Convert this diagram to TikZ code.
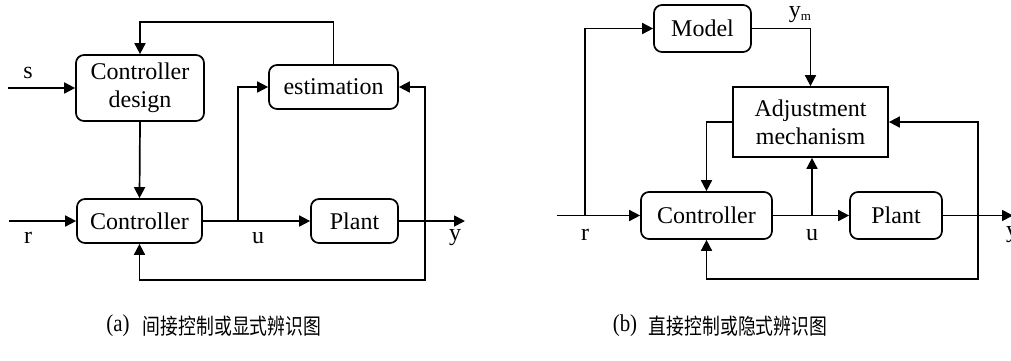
\documentclass[tikz,border=0pt]{standalone}
\usepackage{fontspec}
\setmainfont{Liberation Serif}
\newfontfamily\cjk{Noto Sans CJK SC}
\usetikzlibrary{arrows.meta,calc}

\tikzset{
  blk/.style={draw, line width=1.7pt, rounded corners=8pt, align=center,
    inner sep=0pt, font=\fontsize{24}{28}\selectfont},
  sqblk/.style={blk, rounded corners=0pt},
  wire/.style={line width=1.7pt},
  arr/.style={wire, -{Triangle[length=11pt,width=11pt]}},
  lbl/.style={inner sep=0pt, font=\fontsize{24}{28}\selectfont},
  captext/.style={inner sep=0pt, font=\fontsize{22}{24}\selectfont},
}

\begin{document}
\begin{tikzpicture}[x=1pt,y=-1pt]
\useasboundingbox (0,0) rectangle (1011,360);

% ---------- (a) indirect scheme ----------
\node[blk, minimum width=128pt, minimum height=66pt] (cd) at (140,88) {Controller\\design};
\node[blk, minimum width=129pt, minimum height=44pt] (est) at (333.5,87) {estimation};
\node[blk, minimum width=125pt, minimum height=44pt] (ctrl) at (139.5,221) {Controller};
\node[blk, minimum width=87pt, minimum height=44pt] (plant) at (354.5,221) {Plant};

\coordinate (sin) at (8,88);
\coordinate (rin) at (9,221);
\coordinate (ctop) at (140,22);
\coordinate (ub) at (238,221);
\coordinate (fb) at (425,221);
\coordinate (fbb) at (425,280);
\coordinate (yout) at (465,221);

\draw[arr] (sin) -- (cd.west);
\draw[arr] (rin) -- (ctrl.west);
\draw[arr] (cd.south) -- (ctrl.north);
\draw[arr] (est.north) |- (ctop) -- (cd.north);
\draw[arr] (ctrl.east) -- (plant.west);
\draw[arr] (ub) |- (est.west);
\draw[arr] (plant.east) -- (yout);
\draw[arr] (fb) |- (est.east);
\draw[arr] (fb) -- (fbb) -| (ctrl.south);

\node[lbl] (ls) at (28,73) {s};
\node[lbl] (lr) at (28,238) {r};
\node[lbl] (lu) at (258,238) {u};
\node[lbl] (ly) at (455,238) {y};

% ---------- (b) direct scheme ----------
\node[blk, minimum width=97pt, minimum height=47pt] (model) at (702.5,28.5) {Model};
\node[sqblk, minimum width=155pt, minimum height=70pt] (adj) at (810.5,122) {Adjustment\\mechanism};
\node[blk, minimum width=131pt, minimum height=47pt] (ctrlb) at (706.5,215.5) {Controller};
\node[blk, minimum width=92pt, minimum height=47pt] (plantb) at (896,215.5) {Plant};

\coordinate (rinb) at (557,215.5);
\coordinate (rb) at (585,215.5);
\coordinate (ubb) at (812,215.5);
\coordinate (fbc) at (978,215.5);
\coordinate (fbd) at (978,279);
\coordinate (youtb) at (1013,215.5);

\draw[arr] (rinb) -- (ctrlb.west);
\draw[arr] (rb) |- (model.west);
\draw[arr] (model.east) -| (adj.north);
\draw[arr] (adj.west) -| (ctrlb.north);
\draw[arr] (ctrlb.east) -- (plantb.west);
\draw[arr] (ubb) -- (ubb |- adj.south);
\draw[arr] (plantb.east) -- (youtb);
\draw[arr] (fbc) |- (adj.east);
\draw[arr] (fbc) -- (fbd) -| (ctrlb.south);

\node[lbl] (lrb) at (585,235) {r};
\node[lbl] (lub) at (812,235) {u};
\node[lbl] (lyb) at (1012,235) {y};
\node[lbl, anchor=base] (lym) at (800,17) {y\raisebox{-3pt}{\fontsize{13}{13}\selectfont m}};

% ---------- captions ----------
\node[captext] (capa) at (118,326) {\scalebox{0.95}[1.1]{(a)}};
\node[captext] (capat) at (232,326) {\scalebox{0.81}[1]{\cjk 间接控制或显式辨识图}};
\node[captext] (capb) at (625,326) {\scalebox{0.95}[1.1]{(b)}};
\node[captext] (capbt) at (738,326) {\scalebox{0.81}[1]{\cjk 直接控制或隐式辨识图}};
\end{tikzpicture}
\end{document}
